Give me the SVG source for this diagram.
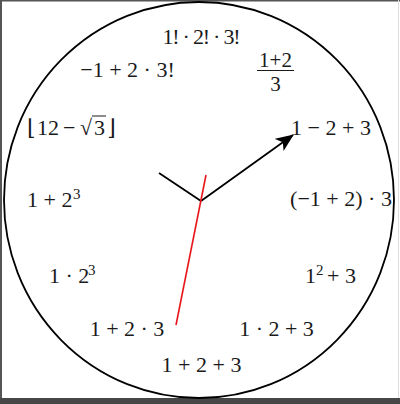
<svg xmlns="http://www.w3.org/2000/svg" width="400" height="404" viewBox="0 0 400 404">
<style>
text{font-family:"Liberation Serif","DejaVu Serif",serif;font-size:22px;fill:#1a1a1a}
.c{text-anchor:middle}
.sup{font-size:15px}
.fr{font-size:21px}
.hand{stroke:#000;stroke-width:1.8;fill:none}
</style>
<defs>
<marker id="arr" viewBox="0 0 18 15" refX="17" refY="7.5" markerWidth="18" markerHeight="15" markerUnits="userSpaceOnUse" orient="auto">
<path d="M18,7.5 L0,0 L4.5,7.5 L0,15 Z" fill="#000"/>
</marker>
</defs>
<rect width="400" height="404" fill="#fff"/>
<rect x="0" y="0" width="2" height="404" fill="#555"/>
<rect x="0" y="0" width="400" height="1.5" fill="#555"/>
<rect x="0" y="398" width="400" height="6" fill="#474747"/>
<rect x="398" y="0" width="1" height="398" fill="#ddd"/>
<ellipse id="dial" cx="199" cy="200" rx="195" ry="198" fill="none" stroke="#000" stroke-width="1.8"/>
<g id="l12"><text class="c" x="201.5" y="44" textLength="78" lengthAdjust="spacing">1! · 2! · 3!</text></g>
<g id="l11"><text class="c" x="127.5" y="77">−1 + 2 · 3!</text></g>
<g id="l1"><text class="c fr" x="275.5" y="67">1+2</text><line x1="257" y1="70.5" x2="294" y2="70.5" stroke="#1a1a1a" stroke-width="1"/><text class="c fr" x="275.5" y="91">3</text></g>
<g id="l10"><text x="27" y="135">⌊</text><text x="37" y="135">12</text><text x="63" y="135">−</text><text x="80" y="135">√</text><line x1="92" y1="116" x2="106" y2="116" stroke="#1a1a1a" stroke-width="1"/><text x="94" y="135">3</text><text x="107" y="135">⌋</text></g>
<g id="l2"><text class="c" x="331" y="135">1 − 2 + 3</text></g>
<g id="l9"><text x="27" y="207">1 + 2</text><text class="sup" x="73" y="199">3</text></g>
<g id="l3"><text class="c" x="341" y="206">(−1 + 2) · 3</text></g>
<g id="l8"><text x="49" y="283">1 · 2</text><text class="sup" x="88" y="275">3</text></g>
<g id="l4"><text x="305" y="283">1</text><text class="sup" x="316" y="275">2</text><text x="327" y="283">+ 3</text></g>
<g id="l7"><text class="c" x="127" y="336">1 + 2 · 3</text></g>
<g id="l5"><text class="c" x="276.5" y="336">1 · 2 + 3</text></g>
<g id="l6"><text class="c" x="201.5" y="372">1 + 2 + 3</text></g>
<g id="hands">
<line class="hand" x1="201" y1="201" x2="159" y2="173"/>
<line class="hand" x1="201" y1="201" x2="293" y2="135" stroke-width="2" marker-end="url(#arr)"/>
<line x1="206" y1="175" x2="176" y2="325" stroke="#e8141b" stroke-width="1.6"/>
</g>
</svg>
